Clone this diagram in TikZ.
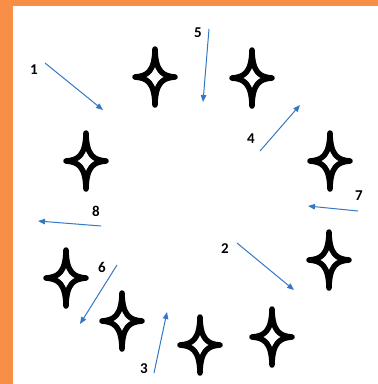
\documentclass[tikz,border=0pt]{standalone}
\usepackage{fontspec}
\setmainfont{Carlito}
\usepackage{xcolor}
\usepackage{tikz}
\usetikzlibrary{arrows.meta}
\definecolor{arancio}{RGB}{247,143,70}
\definecolor{blu}{RGB}{52,120,196}

\begin{document}
\begin{tikzpicture}[x=1pt, y=-1pt,
    freccia/.style={draw=blu, line width=1pt, -{Triangle[length=7pt,width=5.5pt]}},
    numero/.style={font=\fontsize{15}{15}\selectfont\bfseries, text=black},
    stella/.pic={\draw[line width=5.5pt, line join=round] (0,-28) .. controls (0.5,-5) and (8,-1) .. (20,0) .. controls (8,1) and (0.5,5) .. (0,28) .. controls (-0.5,5) and (-8,1) .. (-20,0) .. controls (-8,-1) and (-0.5,-5) .. cycle;}]

    % Sfondo e bordo
    \useasboundingbox (0,0) rectangle (378,384);
    \fill[arancio] (0,0) rectangle (378,384);
    \fill[white] (13,6) rectangle (378,384);

    % Stelle
    \pic (sa) at (155,77) {stella};
    \pic (sb) at (252,78) {stella};
    \pic (sc) at (330,161) {stella};
    \pic (sd) at (86,161) {stella};
    \pic (se) at (329,260) {stella};
    \pic (sf) at (66,278) {stella};
    \pic (sg) at (122,321) {stella};
    \pic (sh) at (200,345) {stella};
    \pic (si) at (272,337) {stella};

    % Estremi delle frecce
    \coordinate (p1) at (45,63);   \coordinate (q1) at (103,110);
    \coordinate (p2) at (237,243); \coordinate (q2) at (294,290);
    \coordinate (p3) at (154,373); \coordinate (q3) at (167,312);
    \coordinate (p4) at (260,151); \coordinate (q4) at (300,105);
    \coordinate (p5) at (209,29);  \coordinate (q5) at (203,102);
    \coordinate (p6) at (117,265); \coordinate (q6) at (80,324);
    \coordinate (p7) at (358,211); \coordinate (q7) at (308,206);
    \coordinate (p8) at (101,226); \coordinate (q8) at (38,221);

    % Frecce
    \draw[freccia] (p1) -- (q1);
    \draw[freccia] (p2) -- (q2);
    \draw[freccia] (p3) -- (q3);
    \draw[freccia] (p4) -- (q4);
    \draw[freccia] (p5) -- (q5);
    \draw[freccia] (p6) -- (q6);
    \draw[freccia] (p7) -- (q7);
    \draw[freccia] (p8) -- (q8);

    % Etichette
    \node[numero] (n1) at (34,70) {1};
    \node[numero] (n2) at (225,249) {2};
    \node[numero] (n3) at (144,369) {3};
    \node[numero] (n4) at (251,139) {4};
    \node[numero] (n5) at (198,33) {5};
    \node[numero] (n6) at (102,267) {6};
    \node[numero] (n7) at (359,196) {7};
    \node[numero] (n8) at (96,211) {8};
\end{tikzpicture}
\end{document}
